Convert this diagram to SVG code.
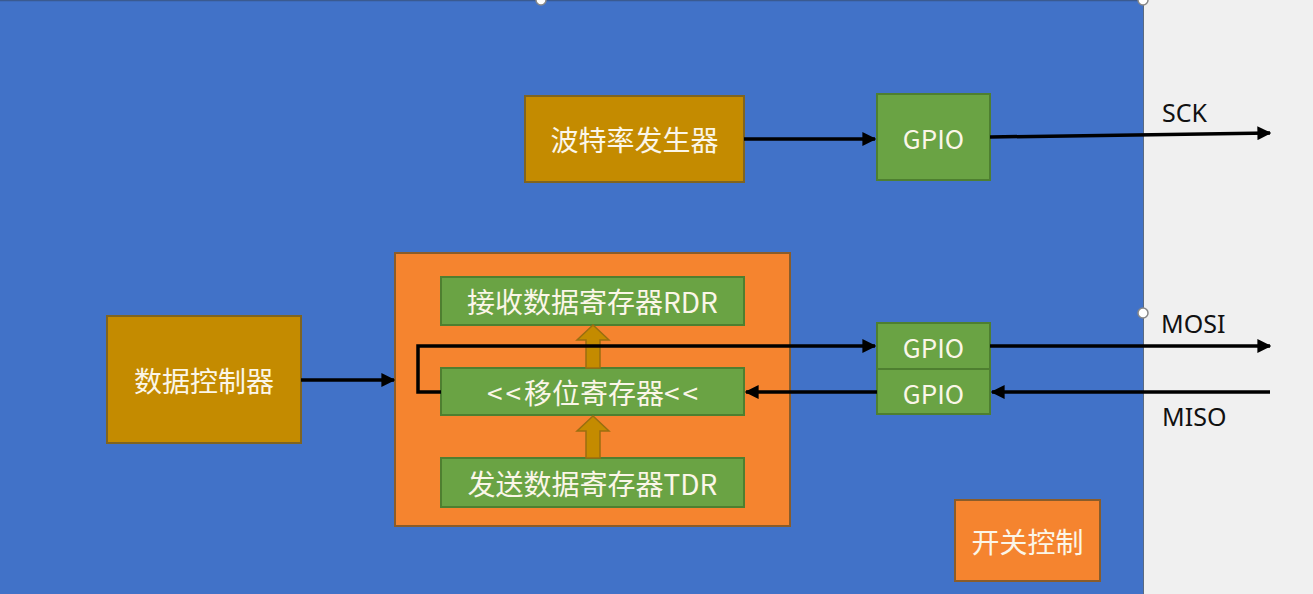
<svg xmlns="http://www.w3.org/2000/svg" width="1313" height="594" viewBox="0 0 1313 594">
<defs>
<style>
.gold{fill:#C48B00;stroke:#7F6420;stroke-width:2}
.green{fill:#6AA344;stroke:#4E7F30;stroke-width:2}
.orange{fill:#F5842F;stroke:#8A5C2A;stroke-width:2}
.lbl{font-family:"Noto Sans CJK SC","Noto Sans",sans-serif;font-size:28px;fill:#FBF6E8;text-anchor:middle;dominant-baseline:central}
.gp{font-size:26px}
.lt{letter-spacing:3px}
.sig{font-family:"Noto Sans","Noto Sans CJK SC",sans-serif;font-size:25px;fill:#111;}
.wire{stroke:#000;stroke-width:3.5;fill:none}
.fat{fill:#C48B00;stroke:#9A6E10;stroke-width:1.5}
.handle{fill:#fff;stroke:#888;stroke-width:1.5}
</style>
<marker id="ah" viewBox="0 0 10 10" refX="9" refY="5" markerWidth="4" markerHeight="4" markerUnits="strokeWidth" orient="auto">
<path d="M0,0 L10,5 L0,10 z" fill="#000"/>
</marker>
</defs>
<rect x="0" y="0" width="1313" height="594" fill="#F0F0F0"/>
<rect x="0" y="0" width="1143" height="594" fill="#4172C8"/>
<line x1="0" y1="0.5" x2="1143" y2="0.5" stroke="#3A5A90" stroke-width="1.5"/>
<line x1="1143.5" y1="0" x2="1143.5" y2="594" stroke="#5A6A80" stroke-width="1"/>

<g id="baud">
<rect class="gold" x="525" y="96" width="219" height="86"/>
<text class="lbl" x="634.5" y="139">波特率发生器</text>
</g>
<g id="gpio-sck">
<rect class="green" x="877" y="94" width="113" height="86"/>
<text class="lbl gp" x="933.5" y="137">GPIO</text>
</g>
<g id="data-ctrl">
<rect class="gold" x="107" y="316" width="194" height="127"/>
<text class="lbl" x="204" y="380">数据控制器</text>
</g>
<g id="container">
<rect class="orange" x="395" y="253" width="395" height="273"/>
</g>
<g id="rdr">
<rect class="green" x="441" y="277" width="303" height="48"/>
<text class="lbl" x="592.5" y="301">接收数据寄存器RDR</text>
</g>
<g id="shift">
<rect class="green" x="441" y="368" width="303" height="47"/>
<text class="lbl" x="594" y="391.5"><tspan class="lt">&lt;&lt;</tspan>移位寄存器<tspan class="lt">&lt;&lt;</tspan></text>
</g>
<g id="tdr">
<rect class="green" x="441" y="458" width="303" height="49"/>
<text class="lbl" x="592.5" y="482.5">发送数据寄存器TDR</text>
</g>
<g id="fat-arrows">
<path class="fat" d="M586,368 L586,340 L577,340 L593,325 L609,340 L600,340 L600,368 z"/>
<path class="fat" d="M586,458 L586,431 L577,431 L593,416 L609,431 L600,431 L600,458 z"/>
</g>
<g id="gpio-mosi">
<rect class="green" x="877" y="323" width="113" height="46"/>
<text class="lbl gp" x="933.5" y="346">GPIO</text>
</g>
<g id="gpio-miso">
<rect class="green" x="877" y="369" width="113" height="45"/>
<text class="lbl gp" x="933.5" y="392">GPIO</text>
</g>
<g id="switch">
<rect class="orange" x="955" y="500" width="145" height="81"/>
<text class="lbl" x="1027.5" y="541">开关控制</text>
</g>

<g id="connectors">
<line class="wire" x1="744" y1="139" x2="875" y2="139" marker-end="url(#ah)"/>
<line class="wire" x1="990" y1="137" x2="1270" y2="133" marker-end="url(#ah)"/>
<line class="wire" x1="301" y1="380" x2="394" y2="380" marker-end="url(#ah)"/>
<polyline class="wire" points="441,392 418,392 418,346 875,346" marker-end="url(#ah)"/>
<line class="wire" x1="990" y1="346" x2="1270" y2="346" marker-end="url(#ah)"/>
<line class="wire" x1="877" y1="392" x2="746" y2="392" marker-end="url(#ah)"/>
<line class="wire" x1="1270" y1="392" x2="992" y2="392" marker-end="url(#ah)"/>
</g>

<g id="labels">
<text class="sig" x="1162" y="122">SCK</text>
<text class="sig" x="1161" y="333">MOSI</text>
<text class="sig" x="1162" y="426">MISO</text>
</g>
<g id="handles">
<circle class="handle" cx="541" cy="0" r="5"/>
<circle class="handle" cx="1143" cy="0" r="5"/>
<circle class="handle" cx="1143" cy="313" r="5"/>
</g>
</svg>
